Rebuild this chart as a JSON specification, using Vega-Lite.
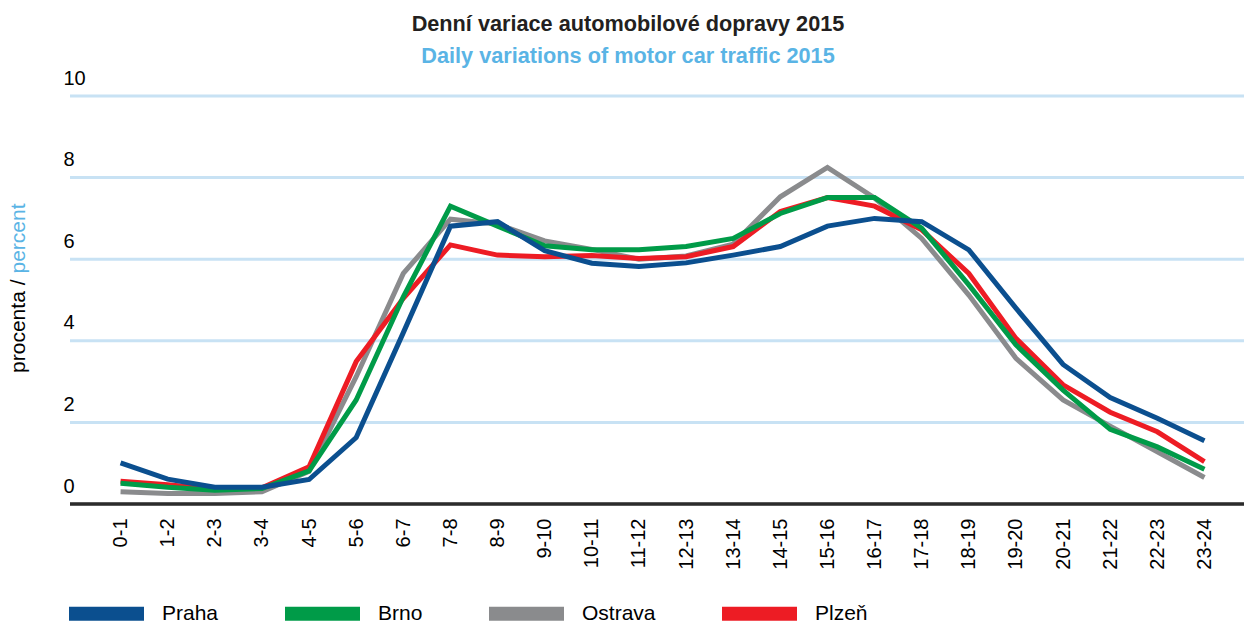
{
  "$schema": "https://vega.github.io/schema/vega-lite/v6.json",
  "autosize": {"type": "none"},
  "padding": {"left": 70, "top": 96, "right": 0, "bottom": 119},
  "width": 1174,
  "height": 408,
  "background": "white",
  "config": {
    "font": "Liberation Sans",
    "view": {"stroke": null}
  },
  "title": {
    "text": "Denní variace automobilové dopravy 2015",
    "subtitle": "Daily variations of motor car traffic 2015",
    "fontSize": 21.7,
    "fontWeight": "bold",
    "color": "#231F20",
    "subtitleFontSize": 21.7,
    "subtitleFontWeight": "bold",
    "subtitleColor": "#5AB4E5",
    "subtitlePadding": 11,
    "anchor": "middle",
    "dx": -29,
    "offset": 0
  },
  "datasets": {
    "grid": [{"g": 2}, {"g": 4}, {"g": 6}, {"g": 8}, {"g": 10}],
    "traffic": [
      {"h": "0-1", "c": "Ostrava", "v": 0.30}, {"h": "0-1", "c": "Plzeň", "v": 0.56}, {"h": "0-1", "c": "Brno", "v": 0.51}, {"h": "0-1", "c": "Praha", "v": 1.01},
      {"h": "1-2", "c": "Ostrava", "v": 0.26}, {"h": "1-2", "c": "Plzeň", "v": 0.47}, {"h": "1-2", "c": "Brno", "v": 0.41}, {"h": "1-2", "c": "Praha", "v": 0.61},
      {"h": "2-3", "c": "Ostrava", "v": 0.26}, {"h": "2-3", "c": "Plzeň", "v": 0.36}, {"h": "2-3", "c": "Brno", "v": 0.34}, {"h": "2-3", "c": "Praha", "v": 0.41},
      {"h": "3-4", "c": "Ostrava", "v": 0.30}, {"h": "3-4", "c": "Plzeň", "v": 0.40}, {"h": "3-4", "c": "Brno", "v": 0.38}, {"h": "3-4", "c": "Praha", "v": 0.41},
      {"h": "4-5", "c": "Ostrava", "v": 0.80}, {"h": "4-5", "c": "Plzeň", "v": 0.91}, {"h": "4-5", "c": "Brno", "v": 0.81}, {"h": "4-5", "c": "Praha", "v": 0.60},
      {"h": "5-6", "c": "Ostrava", "v": 3.12}, {"h": "5-6", "c": "Plzeň", "v": 3.49}, {"h": "5-6", "c": "Brno", "v": 2.55}, {"h": "5-6", "c": "Praha", "v": 1.63},
      {"h": "6-7", "c": "Ostrava", "v": 5.65}, {"h": "6-7", "c": "Plzeň", "v": 5.04}, {"h": "6-7", "c": "Brno", "v": 5.08}, {"h": "6-7", "c": "Praha", "v": 4.20},
      {"h": "7-8", "c": "Ostrava", "v": 6.98}, {"h": "7-8", "c": "Plzeň", "v": 6.35}, {"h": "7-8", "c": "Brno", "v": 7.30}, {"h": "7-8", "c": "Praha", "v": 6.81},
      {"h": "8-9", "c": "Ostrava", "v": 6.86}, {"h": "8-9", "c": "Plzeň", "v": 6.10}, {"h": "8-9", "c": "Brno", "v": 6.81}, {"h": "8-9", "c": "Praha", "v": 6.92},
      {"h": "9-10", "c": "Ostrava", "v": 6.45}, {"h": "9-10", "c": "Plzeň", "v": 6.06}, {"h": "9-10", "c": "Brno", "v": 6.33}, {"h": "9-10", "c": "Praha", "v": 6.21},
      {"h": "10-11", "c": "Ostrava", "v": 6.24}, {"h": "10-11", "c": "Plzeň", "v": 6.09}, {"h": "10-11", "c": "Brno", "v": 6.23}, {"h": "10-11", "c": "Praha", "v": 5.90},
      {"h": "11-12", "c": "Ostrava", "v": 6.00}, {"h": "11-12", "c": "Plzeň", "v": 6.02}, {"h": "11-12", "c": "Brno", "v": 6.23}, {"h": "11-12", "c": "Praha", "v": 5.82},
      {"h": "12-13", "c": "Ostrava", "v": 6.08}, {"h": "12-13", "c": "Plzeň", "v": 6.06}, {"h": "12-13", "c": "Brno", "v": 6.31}, {"h": "12-13", "c": "Praha", "v": 5.91},
      {"h": "13-14", "c": "Ostrava", "v": 6.37}, {"h": "13-14", "c": "Plzeň", "v": 6.31}, {"h": "13-14", "c": "Brno", "v": 6.51}, {"h": "13-14", "c": "Praha", "v": 6.10},
      {"h": "14-15", "c": "Ostrava", "v": 7.53}, {"h": "14-15", "c": "Plzeň", "v": 7.17}, {"h": "14-15", "c": "Brno", "v": 7.12}, {"h": "14-15", "c": "Praha", "v": 6.31},
      {"h": "15-16", "c": "Ostrava", "v": 8.25}, {"h": "15-16", "c": "Plzeň", "v": 7.51}, {"h": "15-16", "c": "Brno", "v": 7.51}, {"h": "15-16", "c": "Praha", "v": 6.81},
      {"h": "16-17", "c": "Ostrava", "v": 7.50}, {"h": "16-17", "c": "Plzeň", "v": 7.30}, {"h": "16-17", "c": "Brno", "v": 7.51}, {"h": "16-17", "c": "Praha", "v": 7.00},
      {"h": "17-18", "c": "Ostrava", "v": 6.51}, {"h": "17-18", "c": "Plzeň", "v": 6.72}, {"h": "17-18", "c": "Brno", "v": 6.76}, {"h": "17-18", "c": "Praha", "v": 6.92},
      {"h": "18-19", "c": "Ostrava", "v": 5.12}, {"h": "18-19", "c": "Plzeň", "v": 5.65}, {"h": "18-19", "c": "Brno", "v": 5.37}, {"h": "18-19", "c": "Praha", "v": 6.23},
      {"h": "19-20", "c": "Ostrava", "v": 3.57}, {"h": "19-20", "c": "Plzeň", "v": 4.06}, {"h": "19-20", "c": "Brno", "v": 3.90}, {"h": "19-20", "c": "Praha", "v": 4.80},
      {"h": "20-21", "c": "Ostrava", "v": 2.55}, {"h": "20-21", "c": "Plzeň", "v": 2.92}, {"h": "20-21", "c": "Brno", "v": 2.79}, {"h": "20-21", "c": "Praha", "v": 3.42},
      {"h": "21-22", "c": "Ostrava", "v": 1.91}, {"h": "21-22", "c": "Plzeň", "v": 2.25}, {"h": "21-22", "c": "Brno", "v": 1.83}, {"h": "21-22", "c": "Praha", "v": 2.61},
      {"h": "22-23", "c": "Ostrava", "v": 1.28}, {"h": "22-23", "c": "Plzeň", "v": 1.77}, {"h": "22-23", "c": "Brno", "v": 1.40}, {"h": "22-23", "c": "Praha", "v": 2.10},
      {"h": "23-24", "c": "Ostrava", "v": 0.65}, {"h": "23-24", "c": "Plzeň", "v": 1.04}, {"h": "23-24", "c": "Brno", "v": 0.85}, {"h": "23-24", "c": "Praha", "v": 1.55}
    ]
  },
  "resolve": {"scale": {"y": "independent"}, "axis": {"y": "independent"}},
  "layer": [
    {
      "data": {"name": "grid"},
      "mark": {"type": "rule", "stroke": "#C8E2F4", "strokeWidth": 3},
      "encoding": {
        "y": {
          "field": "g",
          "type": "quantitative",
          "scale": {"domain": [0, 10], "nice": false},
          "axis": null
        }
      }
    },
    {
      "data": {"name": "traffic"},
      "mark": {"type": "line", "strokeWidth": 5, "strokeJoin": "miter"},
      "encoding": {
        "x": {
          "field": "h",
          "type": "ordinal",
          "sort": null,
          "scale": {"type": "point", "range": [27, 1158]},
          "axis": {
            "title": null,
            "domain": false,
            "ticks": false,
            "tickSize": 0,
            "grid": false,
            "labelAngle": 270,
            "labelAlign": "right",
            "labelBaseline": "middle",
            "labelPadding": 14,
            "labelFontSize": 20,
            "labelColor": "#000000"
          }
        },
        "y": {
          "field": "v",
          "type": "quantitative",
          "scale": {"domain": [0, 10], "nice": false, "zero": true},
          "axis": {
            "values": [0, 2, 4, 6, 8, 10],
            "title": "procenta /",
            "titleColor": "#000000",
            "titleFontSize": 21,
            "titleFontWeight": "normal",
            "titleAngle": 270,
            "titleAlign": "right",
            "titleBaseline": "alphabetic",
            "titleX": -46,
            "titleY": 183,
            "domain": false,
            "ticks": false,
            "tickSize": 0,
            "grid": false,
            "labelAlign": "left",
            "labelBaseline": "middle",
            "labelPadding": 7,
            "labelOffset": -18,
            "labelFontSize": 20,
            "labelColor": "#000000"
          }
        },
        "color": {
          "field": "c",
          "type": "nominal",
          "scale": {
            "domain": ["Praha", "Brno", "Ostrava", "Plzeň"],
            "range": ["#0B4F8F", "#009B48", "#8A8B8D", "#ED1C24"]
          },
          "legend": {
            "title": null,
            "orient": "none",
            "legendX": -8,
            "legendY": 473,
            "direction": "horizontal",
            "columns": 4,
            "symbolType": "M-1,0H1",
            "symbolSize": 5625,
            "symbolStrokeWidth": 14,
            "labelFontSize": 21,
            "labelColor": "#000000",
            "labelOffset": 11,
            "columnPadding": 38
          }
        }
      }
    },
    {
      "data": {"name": "grid"},
      "mark": {"type": "rule", "stroke": "#2B2B2B", "strokeWidth": 2.5},
      "encoding": {
        "y": {
          "datum": 0,
          "type": "quantitative",
          "scale": {"domain": [0, 10], "nice": false},
          "axis": {
            "orient": "right",
            "title": "percent",
            "titleColor": "#5AB4E5",
            "titleFontSize": 21,
            "titleFontWeight": "normal",
            "titleAngle": 270,
            "titleAlign": "left",
            "titleBaseline": "alphabetic",
            "titleX": -1220,
            "titleY": 177,
            "labels": false,
            "domain": false,
            "ticks": false,
            "grid": false
          }
        }
      }
    }
  ]
}
